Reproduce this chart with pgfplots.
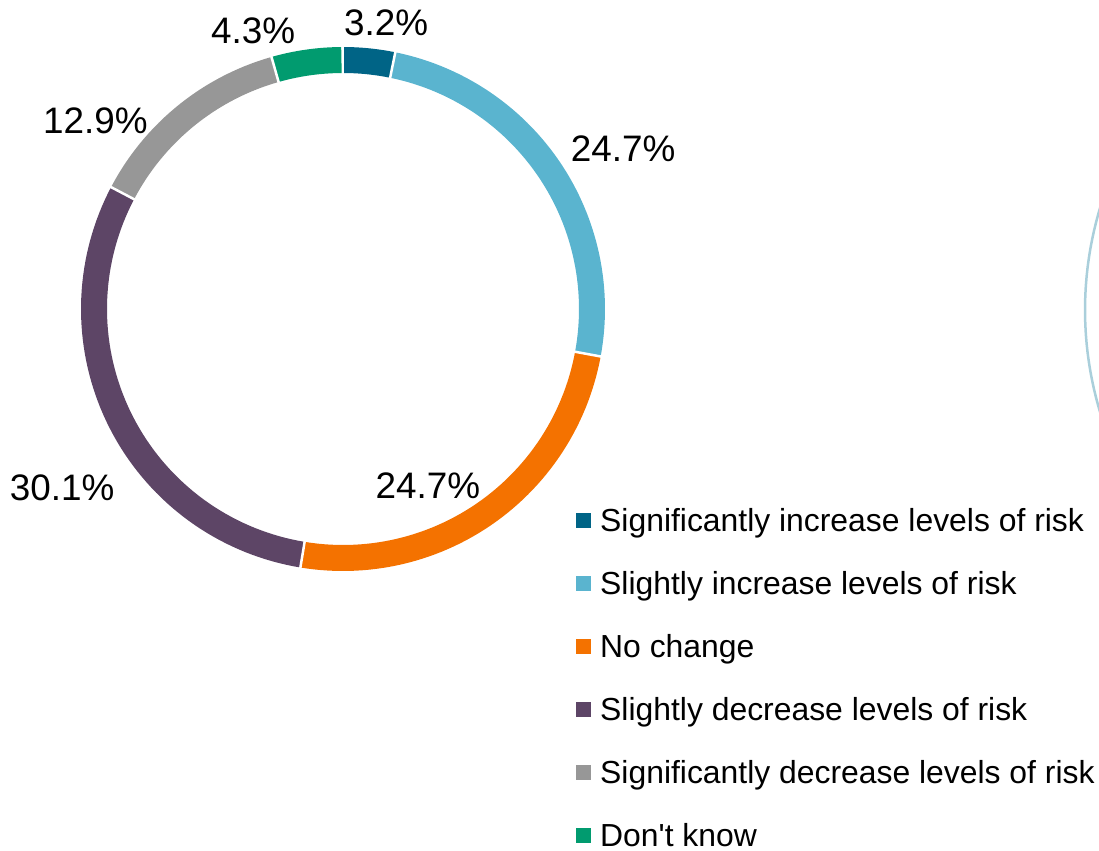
\documentclass[border=0pt]{standalone}
\usepackage{fontspec}
\setmainfont{Liberation Sans}
\usepackage{pgfplots}
\usepgfplotslibrary{polar}
\pgfplotsset{compat=1.18}
\definecolor{c1}{HTML}{006486}
\definecolor{c2}{HTML}{5AB4CF}
\definecolor{c3}{HTML}{F47200}
\definecolor{c4}{HTML}{5D4566}
\definecolor{c5}{HTML}{979797}
\definecolor{c6}{HTML}{019B6F}
\definecolor{faint}{HTML}{AACFDB}
\tikzset{lbl/.style={font=\fontsize{37}{44}\selectfont, inner sep=0pt}}
\pgfplotsset{sq/.style={legend image code/.code={\node[fill=#1, draw=none, minimum size=15bp, inner sep=0pt, text height=0pt, text depth=0pt] at (7.5bp,0bp) {};}}}
% shares (%): 3.2, 24.7, 24.7, 30.1, 12.9, 4.3 -- clockwise from top, 3.6 deg per %
\begin{document}
\begin{tikzpicture}
\useasboundingbox (0,0) rectangle (1099bp,851bp);
% faint arc of a neighbouring chart, cut by the page edge
\begin{polaraxis}[at={(1439bp,541bp)}, anchor=center, hide axis, scale only axis,
  width=708bp, height=708bp, ymin=0, ymax=354, clip=false]
\addplot[faint, line width=2.5bp, domain=150:210, samples=40] {354};
\end{polaraxis}
\begin{polaraxis}[at={(343bp,542bp)}, anchor=center, hide axis, scale only axis,
  width=526bp, height=526bp, ymin=0, ymax=263, clip=false,
  legend cell align=left,
  legend style={draw=none, fill=none, at={(0.943,0.1207)}, anchor=north west,
    inner sep=0pt, font=\fontsize{32}{38}\selectfont, row sep=40bp,
    /tikz/column sep=9bp,
    nodes={inner sep=0pt, text height=23bp, text depth=0bp}}]
\addplot[c1, line width=26bp, domain=78.48:90, samples=10, sq=c1] {249};
\addlegendentry{Significantly increase levels of risk}
\addplot[c2, line width=26bp, domain=-10.44:78.48, samples=60, sq=c2] {249};
\addlegendentry{Slightly increase levels of risk}
\addplot[c3, line width=26bp, domain=-99.36:-10.44, samples=60, sq=c3] {249};
\addlegendentry{No change}
\addplot[c4, line width=26bp, domain=-207.72:-99.36, samples=70, sq=c4] {249};
\addlegendentry{Slightly decrease levels of risk}
\addplot[c5, line width=26bp, domain=-254.16:-207.72, samples=30, sq=c5] {249};
\addlegendentry{Significantly decrease levels of risk}
\addplot[c6, line width=26bp, domain=-269.64:-254.16, samples=12, sq=c6] {249};
\addlegendentry{Don\textquotesingle t know}
% white separators between the slices
\addplot[white, line width=2.5bp, forget plot] coordinates {(90,234) (90,264)};
\addplot[white, line width=2.5bp, forget plot] coordinates {(78.48,234) (78.48,264)};
\addplot[white, line width=2.5bp, forget plot] coordinates {(-10.44,234) (-10.44,264)};
\addplot[white, line width=2.5bp, forget plot] coordinates {(-99.36,234) (-99.36,264)};
\addplot[white, line width=2.5bp, forget plot] coordinates {(-207.72,234) (-207.72,264)};
\addplot[white, line width=2.5bp, forget plot] coordinates {(-254.16,234) (-254.16,264)};
% data labels
\node[lbl] at (axis cs:81.4,289) {3.2\%};
\node[lbl] at (axis cs:29.7,322.5) {24.7\%};
\node[lbl] at (axis cs:-64.3,196) {24.7\%};
\node[lbl] at (axis cs:212.5,333) {30.1\%};
\node[lbl] at (axis cs:142.8,311) {12.9\%};
\node[lbl] at (axis cs:107.9,292) {4.3\%};
\end{polaraxis}
\end{tikzpicture}
\end{document}
